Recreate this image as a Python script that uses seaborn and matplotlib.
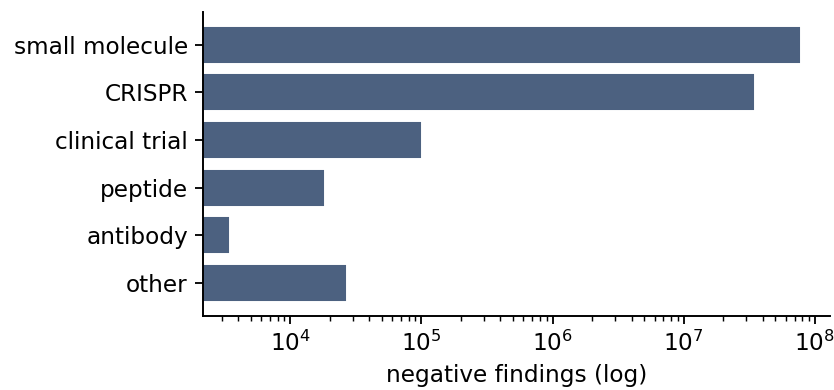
import matplotlib
matplotlib.use("Agg")
import matplotlib.pyplot as plt
import seaborn as sns
import pandas as pd

categories = ["small molecule", "CRISPR", "clinical trial", "peptide", "antibody", "other"]
findings = [7.9e7, 3.5e7, 1.01e5, 1.85e4, 3.5e3, 2.7e4]

sns.set_style("ticks", {
    "text.color": "black",
    "axes.labelcolor": "black",
    "axes.edgecolor": "black",
    "xtick.color": "black",
    "ytick.color": "black",
})
plt.rcParams["font.family"] = ["DejaVu Sans"]
plt.rcParams["font.size"] = 12
plt.rcParams["axes.linewidth"] = 1.0
plt.rcParams["xtick.major.size"] = 4.2
plt.rcParams["ytick.major.size"] = 4.2
plt.rcParams["xtick.minor.size"] = 2.5
plt.rcParams["xtick.major.width"] = 0.95
plt.rcParams["ytick.major.width"] = 0.95
plt.rcParams["xtick.minor.width"] = 0.75

df = pd.DataFrame({"category": categories, "findings": findings})

fig = plt.figure(figsize=(6, 390 / 139), dpi=139)
ax = fig.add_axes([0.243, 0.190, 0.752, 0.780])

sns.barplot(data=df, x="findings", y="category", color="#4c6180",
            saturation=1, width=0.8, ax=ax)
ax.set_xscale("log")
ax.set_xlim(2.15e3, 1.3e8)
ax.set_ylim(len(categories) - 1 + 0.69, -0.69)

ax.set_xlabel("negative findings (log)", fontsize=12)
ax.set_ylabel("")
ax.tick_params(axis="both", labelsize=12)
sns.despine(ax=ax)

fig.savefig("out.png", dpi=139)
